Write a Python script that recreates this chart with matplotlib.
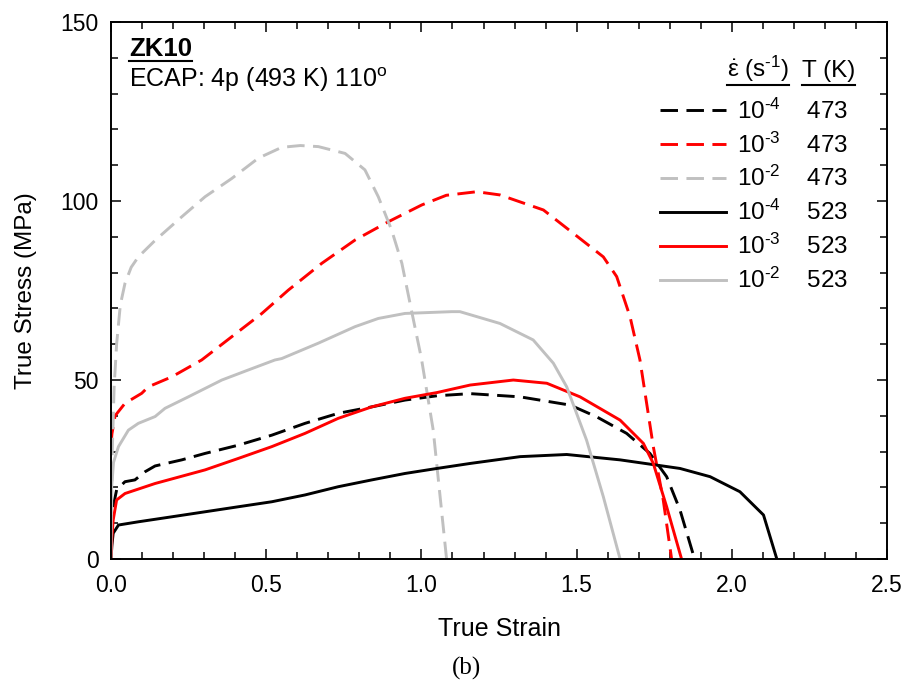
import matplotlib
matplotlib.use("Agg")
import matplotlib.pyplot as plt
from matplotlib.ticker import MultipleLocator, FormatStrFormatter
from matplotlib.lines import Line2D

plt.rcParams['font.family'] = ['Liberation Sans', 'DejaVu Sans']
plt.rcParams['mathtext.fontset'] = 'custom'
plt.rcParams['mathtext.rm'] = 'Liberation Sans'
plt.rcParams['mathtext.it'] = 'Liberation Sans'
plt.rcParams['mathtext.bf'] = 'Liberation Sans:bold'

# ---- data (true strain, true stress MPa) ----
# 473 K, 1e-4 s^-1 (black dashed)
strain_473_m4 = [0.0, 0.003, 0.007, 0.018, 0.045, 0.077, 0.11, 0.142, 0.228, 0.303, 0.41, 0.518,
                 0.625, 0.732, 0.84, 0.947, 1.05, 1.157, 1.318, 1.479, 1.565, 1.661, 1.736, 1.79,
                 1.833, 1.88]
stress_473_m4 = [0.0, 9.0, 14.6, 19.3, 21.6, 22.1, 24.4, 26.0, 27.7, 29.5, 31.8, 34.6,
                 37.9, 40.7, 42.5, 44.4, 45.6, 46.2, 45.3, 43.0, 39.7, 35.1, 29.5, 23.0,
                 13.7, 0.0]

# 473 K, 1e-3 s^-1 (red dashed)
strain_473_m3 = [0.0, 0.003, 0.013, 0.045, 0.099, 0.12, 0.196, 0.292, 0.389, 0.486, 0.571,
                 0.679, 0.786, 0.893, 1.001, 1.08, 1.178, 1.253, 1.393, 1.489, 1.586, 1.629,
                 1.672, 1.704, 1.747, 1.779, 1.806]
stress_473_m3 = [32.0, 35.0, 40.0, 43.5, 46.3, 48.1, 50.9, 55.6, 62.1, 68.6, 75.1,
                 82.6, 89.1, 94.2, 98.9, 101.6, 102.6, 101.7, 97.5, 91.0, 84.4, 78.9,
                 67.7, 55.6, 31.4, 16.5, 0.0]

# 473 K, 1e-2 s^-1 (gray dashed)
strain_473_m2 = [0.0, 0.004, 0.01, 0.018, 0.03, 0.045, 0.065, 0.088, 0.142, 0.228, 0.303,
                 0.389, 0.475, 0.55, 0.61, 0.668, 0.754, 0.818, 0.861, 0.904, 0.937, 0.969,
                 1.0, 1.038, 1.081]
stress_473_m2 = [0.0, 30.0, 48.0, 60.0, 71.0, 77.0, 81.5, 84.4, 89.0, 95.6, 101.2,
                 106.3, 112.0, 115.0, 115.5, 115.2, 113.3, 108.7, 101.2, 91.9, 82.6, 69.0,
                 56.0, 36.0, 0.0]

# 523 K, 1e-4 s^-1 (black solid)
strain_523_m4 = [0.0, 0.003, 0.007, 0.024, 0.088, 0.196, 0.303, 0.41, 0.518, 0.625, 0.732,
                 0.84, 0.947, 1.05, 1.157, 1.318, 1.468, 1.64, 1.833, 1.93, 2.026, 2.102, 2.145]
stress_523_m4 = [0.0, 4.0, 7.2, 9.5, 10.4, 11.8, 13.2, 14.6, 16.0, 17.9, 20.2,
                 22.1, 23.9, 25.3, 26.7, 28.6, 29.2, 27.7, 25.3, 23.0, 18.8, 12.3, 0.0]

# 523 K, 1e-3 s^-1 (red solid)
strain_523_m3 = [0.0, 0.003, 0.007, 0.018, 0.045, 0.142, 0.303, 0.41, 0.518, 0.625, 0.732,
                 0.84, 0.947, 1.05, 1.157, 1.296, 1.404, 1.511, 1.64, 1.715, 1.747, 1.79, 1.838]
stress_523_m3 = [0.0, 6.0, 10.9, 16.5, 18.3, 21.1, 24.9, 28.1, 31.4, 35.1, 39.3,
                 42.5, 44.9, 46.5, 48.6, 50.0, 49.1, 45.3, 38.8, 32.3, 26.7, 14.6, 0.0]

# 523 K, 1e-2 s^-1 (gray solid)
strain_523_m2 = [0.0, 0.002, 0.008, 0.024, 0.056, 0.088, 0.142, 0.174, 0.249, 0.357, 0.442,
                 0.528, 0.55, 0.668, 0.786, 0.861, 0.947, 1.098, 1.124, 1.253, 1.36, 1.425,
                 1.468, 1.532, 1.586, 1.64]
stress_523_m2 = [0.0, 20.0, 27.0, 31.4, 36.0, 37.9, 39.8, 42.1, 45.3, 50.0, 52.8,
                 55.6, 56.0, 60.3, 64.9, 67.2, 68.6, 69.1, 69.1, 65.8, 61.2, 54.7,
                 48.1, 33.2, 17.4, 0.0]

rate_labels = ['10$^{\\text{-4}}$', '10$^{\\text{-3}}$', '10$^{\\text{-2}}$',
               '10$^{\\text{-4}}$', '10$^{\\text{-3}}$', '10$^{\\text{-2}}$']
temp_labels = ['473', '473', '473', '523', '523', '523']

series = [
    (strain_473_m4, stress_473_m4, 'black', 'dashed'),
    (strain_473_m3, stress_473_m3, 'red', 'dashed'),
    (strain_473_m2, stress_473_m2, '#c0c0c0', 'dashed'),
    (strain_523_m4, stress_523_m4, 'black', 'solid'),
    (strain_523_m3, stress_523_m3, 'red', 'solid'),
    (strain_523_m2, stress_523_m2, '#c0c0c0', 'solid'),
]

fig = plt.figure(figsize=(9.07, 6.84), dpi=100)
ax = fig.add_axes([0.1224, 0.1827, 0.9780 - 0.1224, 0.9678 - 0.1827])

handles = []
for (x, y, c, ls), r, t in zip(series, rate_labels, temp_labels):
    if ls == 'dashed':
        line, = ax.plot(x, y, color=c, lw=2.1, dashes=(6.0, 2.9), label=r + '    ' + t)
    else:
        line, = ax.plot(x, y, color=c, lw=2.1, label=r + '    ' + t)
    handles.append(line)

ax.set_xlim(0, 2.5)
ax.set_ylim(0, 150)
ax.xaxis.set_major_locator(MultipleLocator(0.5))
ax.xaxis.set_minor_locator(MultipleLocator(0.1))
ax.yaxis.set_major_locator(MultipleLocator(50))
ax.yaxis.set_minor_locator(MultipleLocator(10))
ax.xaxis.set_major_formatter(FormatStrFormatter('%.1f'))
ax.yaxis.set_major_formatter(FormatStrFormatter('%d'))
ax.tick_params(which='both', direction='in', top=True, right=True, width=1.1)
ax.tick_params(which='major', length=7, labelsize=16.5)
ax.tick_params(axis='x', which='major', pad=11)
ax.tick_params(axis='y', which='major', pad=9)
ax.tick_params(which='minor', length=5)
for s in ax.spines.values():
    s.set_linewidth(1.4)

ax.set_xlabel('True Strain', fontsize=18, labelpad=14)
ax.set_ylabel('True Stress (MPa)', fontsize=17.5, labelpad=17)

leg = ax.legend(handles=handles, loc='upper left', bbox_to_anchor=(0.708, 0.858),
                frameon=False, fontsize=17.5, handlelength=2.7, handletextpad=0.45,
                labelspacing=0.36, borderpad=0, borderaxespad=0)

t1 = ax.text(0.794, 0.8976, r'$\dot{\varepsilon}$ (s$^{\text{-1}}$)', transform=ax.transAxes,
             fontsize=17.5, va='baseline', ha='left')
t2 = ax.text(0.890, 0.8976, 'T (K)', transform=ax.transAxes, fontsize=17.5,
             va='baseline', ha='left')

z = ax.text(0.023, 0.9367, 'ZK10', transform=ax.transAxes, fontsize=18.5,
            fontweight='bold', va='baseline', ha='left')
ax.text(0.023, 0.879, 'ECAP: 4p (493 K) 110$^{\\mathregular{o}}$', transform=ax.transAxes,
        fontsize=18, va='baseline', ha='left')

fig.text(0.514, 0.023, '(b)', family=['Liberation Serif', 'DejaVu Serif'], fontsize=18,
         ha='center', va='center')

# underline ZK10 and table headers (offset below baseline, in pixels)
fig.canvas.draw()
to_px = ax.transAxes
inv = ax.transAxes.inverted()
for txt, gap in ((z, 5), (t1, 8), (t2, 8)):
    bb = txt.get_window_extent()
    base = to_px.transform(txt.get_position())[1] - gap
    (x0, y0), (x1, _) = inv.transform([(bb.x0, base), (bb.x1, base)])
    ax.add_line(Line2D([x0, x1], [y0, y0], transform=ax.transAxes, color='black', lw=1.5))

fig.savefig('out.png', dpi=100)
